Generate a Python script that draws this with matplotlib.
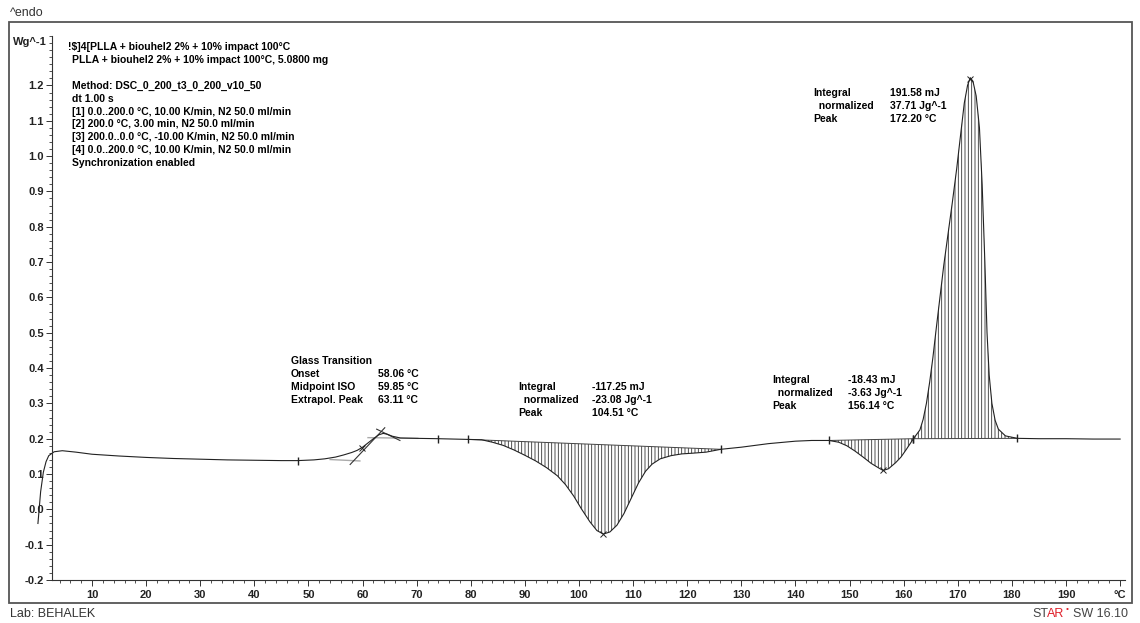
import numpy as np
import matplotlib.pyplot as plt
from matplotlib.patches import Rectangle
from matplotlib.ticker import FixedLocator, MultipleLocator

plt.rcParams['font.family'] = ['Liberation Sans', 'DejaVu Sans']
plt.rcParams['font.weight'] = 'bold'
plt.rcParams['hatch.linewidth'] = 0.6

W, H = 1140, 623

# DSC curve, heat flow in W/g (endo up)
temp = np.array([
    0.0, 0.5, 1.0, 1.5, 2.0, 3.0, 4.5, 7.0, 10, 15, 20, 25, 30, 35, 40, 45, 48,
    51, 53, 55, 56.5, 58, 59, 60, 61, 62, 63, 63.8, 64.5, 65.5, 67, 70, 74,
    79.5, 82, 84, 86, 88, 90, 92, 94, 96, 97.5, 99, 100.5, 102, 103.3, 104.5,
    105.7, 107, 108.3, 109.6, 111, 112.3, 113.5, 115, 117, 119, 121, 123.5,
    126.2,
    130, 135, 140, 143, 146.2, 148, 149.5, 151, 152.5, 154, 155.4, 156.2,
    157.2, 158.5, 159.5, 160.5, 161.8, 163.0, 163.6, 164.2, 164.8, 165.4,
    166.0, 166.7, 167.4, 168.2, 169.0, 169.8, 170.5, 171.2, 171.8, 172.3,
    172.8, 173.4, 174.0, 174.5, 175.0, 175.4, 175.8, 176.3, 176.9, 177.5,
    178.8, 181.0, 185, 190, 195, 200,
])
heat_flow = np.array([
    -0.04, 0.05, 0.105, 0.135, 0.152, 0.163, 0.166, 0.162, 0.156, 0.151,
    0.147, 0.144, 0.142, 0.140, 0.139, 0.138, 0.138,
    0.140, 0.143, 0.148, 0.154, 0.161, 0.167, 0.176, 0.188, 0.200, 0.211,
    0.215, 0.213, 0.207, 0.202, 0.201, 0.200,
    0.198, 0.197, 0.190, 0.181, 0.168, 0.153, 0.137, 0.118, 0.095, 0.070,
    0.038, 0.000, -0.035, -0.060, -0.070,
    -0.064, -0.045, -0.012, 0.030, 0.075, 0.108, 0.128, 0.143, 0.152, 0.157,
    0.159, 0.162, 0.170,
    0.176, 0.186, 0.193, 0.195, 0.195, 0.190, 0.180, 0.165, 0.148, 0.130,
    0.117, 0.110,
    0.115, 0.132, 0.148, 0.170, 0.200, 0.225, 0.255, 0.300, 0.360, 0.430,
    0.510, 0.600, 0.690, 0.780, 0.870, 0.965, 1.058, 1.150, 1.200, 1.222,
    1.212, 1.170, 1.080, 0.920, 0.700, 0.500, 0.380, 0.300, 0.252, 0.227,
    0.208, 0.201, 0.200, 0.200, 0.199, 0.199,
])

# evaluation limits (start, end) of the integrated peaks
peak_limits = [(79.5, 126.2), (146.2, 161.8), (161.8, 181.0)]
gt_limits = [48.0, 74.0]
peak_temps = [59.85, 104.51, 156.14, 172.20]

header = [
    "!$]4[PLLA + biouhel2 2% + 10% impact 100°C",
    "PLLA + biouhel2 2% + 10% impact 100°C, 5.0800 mg",
]
method = [
    "Method: DSC_0_200_t3_0_200_v10_50",
    "dt 1.00 s",
    "[1] 0.0..200.0 °C, 10.00 K/min, N2 50.0 ml/min",
    "[2] 200.0 °C, 3.00 min, N2 50.0 ml/min",
    "[3] 200.0..0.0 °C, -10.00 K/min, N2 50.0 ml/min",
    "[4] 0.0..200.0 °C, 10.00 K/min, N2 50.0 ml/min",
    "Synchronization enabled",
]
gt_labels = ["Onset", "Midpoint ISO", "Extrapol. Peak"]
gt_values = ["58.06 °C", "59.85 °C", "63.11 °C"]
int_labels = ["Integral", "  normalized", "Peak"]
int_values = [
    ["-117.25 mJ", "-23.08 Jg^-1", "104.51 °C"],
    ["-18.43 mJ", "-3.63 Jg^-1", "156.14 °C"],
    ["191.58 mJ", "37.71 Jg^-1", "172.20 °C"],
]

y_ticks = [-0.2, -0.1, 0.0, 0.1, 0.2, 0.3, 0.4, 0.5, 0.6, 0.7, 0.8, 0.9,
           1.0, 1.1, 1.2]
x_ticks = list(range(10, 201, 10))
x_labels = [str(t) for t in x_ticks[:-1]] + ["°C"]


def fx(x):
    return x / W


def fy(y):
    return 1 - y / H


fig = plt.figure(figsize=(W / 100, H / 100), dpi=100)
fig.patches.append(Rectangle((fx(9), fy(603)), fx(1132 - 9), (603 - 22) / H,
                             transform=fig.transFigure, fill=False,
                             edgecolor='#555555', lw=1.3))

ax = fig.add_axes([fx(52), fy(580), fx(1125 - 52), (580 - 36) / H])
ax.set_xlim(2.6, 200.9)
ax.set_ylim(-0.2, 1.34)

# hatched peak areas against linear baselines
for t0, t1 in peak_limits:
    b0, b1 = np.interp([t0, t1], temp, heat_flow)
    m = (temp >= t0) & (temp <= t1)
    ts = temp[m]
    base = b0 + (b1 - b0) * (ts - t0) / (t1 - t0)
    ax.fill_between(ts, heat_flow[m], base, facecolor='none', edgecolor='#333333',
                    hatch='|||||', linewidth=0)
    ax.plot([t0, t1], [b0, b1], color='#444444', lw=0.7)

# glass transition construction
ax.plot([54.0, 59.5], [0.141, 0.137], color='#aaaaaa', lw=1.0)
ax.plot([61.0, 70.2], [0.203, 0.201], color='#aaaaaa', lw=1.0)
ax.plot([57.7, 64.1], [0.127, 0.231], color='#333333', lw=0.8)
ax.plot([62.6, 66.9], [0.227, 0.195], color='#333333', lw=0.8)

ax.plot(temp, heat_flow, color='#222222', lw=0.8, clip_on=False)

marks = gt_limits + [t for lim in peak_limits for t in lim]
ax.plot(marks, np.interp(marks, temp, heat_flow), ls='none', marker='|',
        ms=6, mew=1.0, color='#222222')
ax.plot(peak_temps, np.interp(peak_temps, temp, heat_flow), ls='none',
        marker='x', ms=4, mew=0.7, color='#222222')

for s in ['top', 'right']:
    ax.spines[s].set_visible(False)
for s in ['left', 'bottom']:
    ax.spines[s].set_color('#333333')
    ax.spines[s].set_linewidth(0.8)

ax.yaxis.set_major_locator(FixedLocator(y_ticks))
ax.set_yticklabels([f"{v:.1f}" for v in y_ticks])
ax.yaxis.set_minor_locator(MultipleLocator(0.02))
ax.xaxis.set_major_locator(FixedLocator(x_ticks))
ax.set_xticklabels(x_labels)
ax.xaxis.set_minor_locator(MultipleLocator(2))
ax.tick_params(which='major', length=4, width=0.7, labelsize=8, pad=2,
               color='#333333', labelcolor='#222222')
ax.tick_params(which='minor', length=2.5, width=0.6, color='#333333')
ax.tick_params(axis='x', pad=3)

fs = 7.5
fig.text(fx(47), fy(42), "Wg^-1", fontsize=8, ha='right', va='center',
         color='#222222')
fig.text(fx(10), fy(13), "^endo", fontsize=9, fontweight='normal',
         va='center', color='#333333')
fig.text(fx(10), fy(614), "Lab: BEHALEK", fontsize=9, fontweight='normal',
         va='center', color='#333333')
fig.text(fx(1032), fy(614), "ST", fontsize=9, fontweight='normal',
         va='center', color='#444444')
fig.text(fx(1047), fy(614), "AR", fontsize=9, fontweight='normal',
         va='center', color='#e0202a')
fig.text(fx(1066), fy(610), "•", fontsize=6, fontweight='normal',
         va='center', color='#e0202a')
fig.text(fx(1128), fy(614), "SW 16.10", fontsize=9, fontweight='normal',
         va='center', ha='right', color='#444444')

step = 12.8
for i, s in enumerate(header):
    fig.text(fx(68 + 4 * i), fy(47 + 13 * i), s, fontsize=fs, va='center')
for i, s in enumerate(method):
    fig.text(fx(72), fy(86 + step * i), s, fontsize=fs, va='center')

fig.text(fx(291), fy(361), "Glass Transition", fontsize=fs, va='center')
for i in range(3):
    fig.text(fx(291), fy(374 + step * i), gt_labels[i], fontsize=fs, va='center')
    fig.text(fx(378), fy(374 + step * i), gt_values[i], fontsize=fs, va='center')

blocks = [(518, 592, 387), (772, 848, 380), (813, 890, 93)]
for (xl, xv, y0), vals in zip(blocks, int_values):
    for i in range(3):
        fig.text(fx(xl), fy(y0 + step * i), int_labels[i], fontsize=fs,
                 va='center')
        fig.text(fx(xv), fy(y0 + step * i), vals[i], fontsize=fs, va='center')

fig.savefig('out.png', dpi=100)
